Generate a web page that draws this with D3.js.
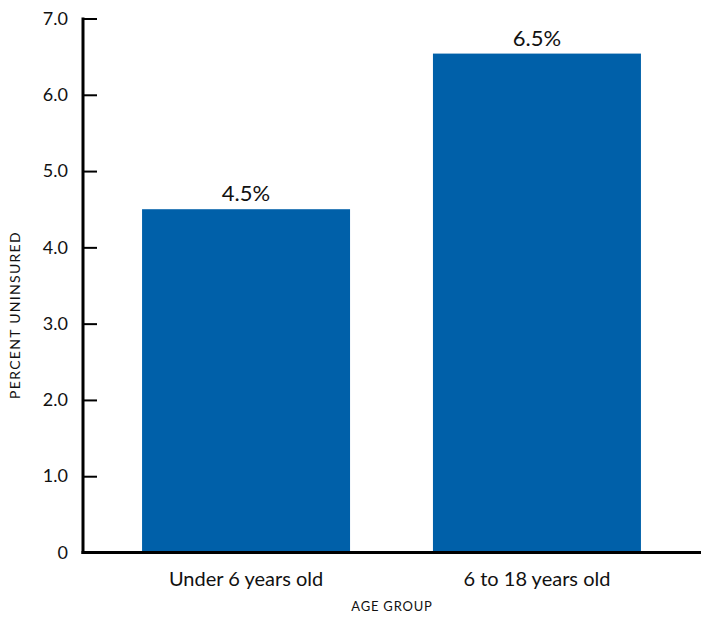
<!DOCTYPE html>
<html>
<head>
<meta charset="utf-8">
<script src="https://cdn.jsdelivr.net/npm/d3@7"></script>
<style>
  html, body { margin: 0; padding: 0; background: #fff; }
  svg { display: block; font-family: "Lato", "Open Sans", sans-serif; }
</style>
</head>
<body>
<svg id="chart" width="701" height="617"></svg>
<script>
const categories = ["Under 6 years old", "6 to 18 years old"];
const values = [4.5, 6.54];
const valueLabels = ["4.5%", "6.5%"];
const yTicks = [0, 1, 2, 3, 4, 5, 6, 7];
const yTickLabels = ["0", "1.0", "2.0", "3.0", "4.0", "5.0", "6.0", "7.0"];
const yTitle = "PERCENT UNINSURED";
const xTitle = "AGE GROUP";

const svg = d3.select("#chart");
const x0 = 83, x1 = 700, yBase = 552.5, yTop = 18.5;

const x = d3.scaleBand().domain(categories).range([x0, x1])
  .paddingInner(0.285).paddingOuter(0.203);
const y = d3.scaleLinear().domain([0, 7]).range([yBase, yTop]);

// bars
svg.selectAll("rect.bar").data(categories).join("rect")
  .attr("class", "bar")
  .attr("x", d => x(d))
  .attr("width", x.bandwidth())
  .attr("y", (d, i) => y(values[i]))
  .attr("height", (d, i) => y(0) - y(values[i]))
  .attr("fill", "#0060A9");

// value labels
svg.selectAll("text.val").data(categories).join("text")
  .attr("class", "val")
  .attr("x", d => x(d) + x.bandwidth() / 2)
  .attr("y", (d, i) => y(values[i]) - 8)
  .attr("text-anchor", "middle")
  .attr("font-size", 22)
  .attr("fill", "#111")
  .text((d, i) => valueLabels[i]);

// y axis
const yAxis = d3.axisLeft(y).tickValues(yTicks)
  .tickFormat((d, i) => yTickLabels[i]).tickSize(-14).tickPadding(16);
const gy = svg.append("g").attr("transform", `translate(${x0},0)`).call(yAxis);
gy.select(".domain").remove();
gy.selectAll(".tick line").attr("stroke", "#000").attr("stroke-width", 2);
gy.selectAll(".tick").filter(d => d === 0).select("line").remove();
gy.selectAll(".tick text").attr("font-size", 18).attr("fill", "#111")
  .attr("font-family", "Lato, sans-serif").attr("x", -15);
svg.append("line").attr("x1", x0).attr("x2", x0)
  .attr("y1", y(7) - 1).attr("y2", yBase + 1.5)
  .attr("stroke", "#000").attr("stroke-width", 3);

// x axis baseline + labels
const xAxis = d3.axisBottom(x).tickSize(0).tickPadding(19);
const gx = svg.append("g").attr("transform", `translate(0,${yBase})`).call(xAxis);
gx.select(".domain").remove();
gx.selectAll(".tick text").attr("font-size", 20).attr("fill", "#111")
  .attr("font-family", "Lato, sans-serif");
svg.append("line").attr("x1", x0 - 1.5).attr("x2", 701)
  .attr("y1", yBase).attr("y2", yBase)
  .attr("stroke", "#000").attr("stroke-width", 3);

// titles
svg.append("text").attr("x", 392).attr("y", 611)
  .attr("text-anchor", "middle").attr("font-size", 13)
  .attr("letter-spacing", 0.8).attr("fill", "#111")
  .text(xTitle);
svg.append("text").attr("transform", `translate(19.5,315) rotate(-90)`)
  .attr("text-anchor", "middle").attr("font-size", 14)
  .attr("letter-spacing", 1.3).attr("fill", "#111")
  .text(yTitle);
</script>
</body>
</html>
